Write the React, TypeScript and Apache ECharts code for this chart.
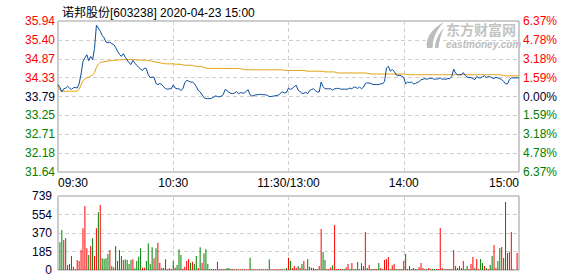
import React, { useEffect, useRef } from "react";
import * as echarts from "echarts";

const FONT = '"Liberation Sans", Arial, "Noto Sans CJK SC", sans-serif';
const TITLE = "诺邦股份[603238] 2020-04-23 15:00";
const PRE_CLOSE = 33.79;

const priceLabels = ["31.64", "32.18", "32.71", "33.25", "33.79", "34.33", "34.87", "35.40", "35.94"];
const pctLabels = ["6.37%", "4.78%", "3.18%", "1.59%", "0.00%", "1.59%", "3.18%", "4.78%", "6.37%"];
const volLabels = ["0", "185", "370", "554", "739"];
const xLabelIndex = [0, 60, 120, 180, 240];
const xLabels = ["09:30", "10:30", "11:30/13:00", "14:00", "15:00"];

const price = [
  34.13, 34.05, 33.92, 34.01, 34.03, 34.08, 34.03, 33.99, 34.04, 34.05,
  34.03, 34.15, 34.43, 34.79, 34.89, 34.98, 34.81, 34.93, 34.84, 35.15,
  35.82, 35.74, 35.65, 35.53, 35.46, 35.34, 35.32, 35.34, 35.29, 35.27,
  35.19, 35.08, 34.99, 34.93, 35.01, 34.91, 34.83, 34.75, 34.70, 34.82,
  34.74, 34.68, 34.62, 34.57, 34.53, 34.60, 34.58, 34.41, 34.33, 34.34,
  34.34, 34.16, 34.13, 34.16, 34.13, 34.07, 34.01, 34.00, 34.01, 34.01,
  34.12, 34.03, 34.01, 34.01, 33.96, 34.01, 34.18, 34.25, 34.23, 34.20,
  34.20, 34.16, 34.07, 33.96, 33.92, 33.84, 33.76, 33.73, 33.73, 33.73,
  33.74, 33.77, 33.81, 33.79, 33.78, 33.80, 33.84, 33.99, 33.96, 33.91,
  33.88, 33.87, 33.89, 33.93, 33.87, 33.90, 33.89, 33.89, 33.94, 33.98,
  33.84, 33.80, 33.82, 33.84, 33.84, 33.85, 33.85, 33.84, 33.84, 33.82,
  33.79, 33.79, 33.80, 33.81, 33.82, 33.84, 33.89, 33.92, 33.89, 33.91,
  34.03, 33.99, 34.02, 34.07, 34.11, 33.97, 33.93, 33.88, 33.88, 33.91,
  33.87, 33.96, 33.99, 34.01, 33.96, 33.92, 33.92, 34.20, 34.07, 34.01,
  34.01, 34.01, 34.01, 33.97, 34.01, 34.02, 34.02, 34.00, 34.00, 34.00,
  34.00, 34.00, 34.03, 34.01, 34.06, 34.05, 34.02, 34.06, 34.01, 34.05,
  34.16, 34.18, 34.17, 34.16, 34.13, 34.13, 34.13, 34.13, 34.15, 34.15,
  34.22, 34.60, 34.65, 34.51, 34.56, 34.51, 34.41, 34.39, 34.39, 34.37,
  34.33, 34.15, 34.20, 34.19, 34.20, 34.15, 34.16, 34.19, 34.21, 34.27,
  34.28, 34.30, 34.28, 34.30, 34.31, 34.30, 34.28, 34.29, 34.29, 34.32,
  34.28, 34.29, 34.28, 34.30, 34.30, 34.36, 34.57, 34.45, 34.41, 34.41,
  34.41, 34.47, 34.39, 34.34, 34.33, 34.33, 34.30, 34.27, 34.36, 34.32,
  34.32, 34.35, 34.38, 34.33, 34.36, 34.35, 34.32, 34.30, 34.34, 34.32,
  34.30, 34.27, 34.22, 34.15, 34.15, 34.27, 34.32, 34.32, 34.32, 34.32, 34.32,
];

const avgPrice = [
  34.10, 33.97, 33.94, 33.94, 33.94, 33.94, 33.94, 33.94, 33.94, 33.94,
  33.94, 34.00, 34.12, 34.24, 34.29, 34.32, 34.34, 34.37, 34.40, 34.47,
  34.62, 34.71, 34.76, 34.77, 34.78, 34.79, 34.80, 34.81, 34.81, 34.82,
  34.82, 34.83, 34.83, 34.84, 34.84, 34.84, 34.84, 34.84, 34.84, 34.84,
  34.84, 34.83, 34.83, 34.83, 34.82, 34.82, 34.82, 34.81, 34.81, 34.79,
  34.78, 34.77, 34.76, 34.75, 34.74, 34.73, 34.72, 34.72, 34.72, 34.72,
  34.72, 34.71, 34.71, 34.71, 34.70, 34.69, 34.68, 34.68, 34.68, 34.68,
  34.67, 34.66, 34.65, 34.65, 34.65, 34.64, 34.62, 34.60, 34.59, 34.59,
  34.59, 34.59, 34.59, 34.59, 34.59, 34.59, 34.59, 34.59, 34.59, 34.59,
  34.59, 34.59, 34.59, 34.59, 34.59, 34.58, 34.57, 34.56, 34.55, 34.55,
  34.55, 34.55, 34.55, 34.55, 34.55, 34.55, 34.55, 34.55, 34.55, 34.55,
  34.55, 34.55, 34.55, 34.55, 34.55, 34.55, 34.55, 34.54, 34.54, 34.53,
  34.53, 34.53, 34.53, 34.53, 34.53, 34.53, 34.53, 34.53, 34.53, 34.52,
  34.51, 34.51, 34.51, 34.51, 34.51, 34.51, 34.51, 34.51, 34.50, 34.49,
  34.49, 34.49, 34.49, 34.49, 34.49, 34.47, 34.46, 34.46, 34.46, 34.46,
  34.46, 34.46, 34.46, 34.46, 34.46, 34.46, 34.46, 34.46, 34.46, 34.46,
  34.46, 34.45, 34.44, 34.43, 34.43, 34.43, 34.43, 34.43, 34.43, 34.43,
  34.43, 34.43, 34.43, 34.43, 34.43, 34.43, 34.43, 34.43, 34.43, 34.43,
  34.43, 34.42, 34.42, 34.41, 34.41, 34.41, 34.41, 34.41, 34.41, 34.41,
  34.41, 34.41, 34.41, 34.41, 34.41, 34.41, 34.41, 34.41, 34.41, 34.41,
  34.41, 34.41, 34.41, 34.41, 34.41, 34.41, 34.41, 34.41, 34.41, 34.41,
  34.41, 34.41, 34.41, 34.41, 34.41, 34.41, 34.41, 34.41, 34.41, 34.41,
  34.41, 34.41, 34.41, 34.41, 34.41, 34.41, 34.41, 34.41, 34.41, 34.41,
  34.41, 34.40, 34.39, 34.38, 34.38, 34.38, 34.38, 34.38, 34.38, 34.38, 34.38,
];

const volume = [
  0, 276, 400, 300, 316, 50, 60, 140, 33, 10,
  100, 90, 200, 416, 639, 216, 150, 240, 316, 140,
  416, 576, 649, 117, 110, 117, 160, 200, 40, 27,
  240, 90, 200, 140, 100, 107, 100, 60, 100, 107,
  17, 90, 133, 216, 23, 23, 90, 266, 60, 226,
  117, 216, 273, 73, 23, 20, 107, 7, 17, 10,
  90, 23, 50, 206, 150, 13, 33, 90, 110, 73,
  83, 60, 140, 20, 226, 73, 166, 206, 60, 10,
  10, 10, 10, 83, 10, 10, 10, 10, 20, 20,
  10, 10, 8, 8, 8, 8, 8, 8, 8, 8,
  123, 8, 8, 8, 8, 8, 8, 8, 8, 8,
  107, 8, 8, 8, 8, 8, 8, 8, 8, 20,
  123, 90, 20, 40, 23, 40, 23, 60, 90, 10,
  110, 33, 23, 20, 10, 10, 40, 409, 180, 100,
  10, 10, 27, 47, 449, 10, 10, 10, 10, 10,
  27, 60, 10, 70, 10, 10, 80, 10, 67, 40,
  380, 20, 50, 10, 10, 10, 10, 70, 20, 10,
  100, 110, 130, 10, 47, 60, 10, 10, 10, 10,
  90, 160, 10, 40, 10, 20, 10, 10, 30, 70,
  20, 10, 10, 20, 10, 10, 10, 10, 10, 419,
  20, 10, 10, 10, 10, 10, 200, 40, 20, 40,
  20, 90, 10, 40, 10, 60, 130, 20, 110, 10,
  110, 70, 40, 20, 10, 50, 140, 250, 20, 90,
  220, 230, 120, 679, 170, 180, 380, 10, 0, 170, 0,
];

const volSide = [
  "r", "g", "g", "r", "g", "r", "g", "g", "r", "g",
  "r", "r", "r", "r", "r", "r", "g", "r", "g", "r",
  "r", "g", "r", "g", "g", "g", "g", "r", "g", "r",
  "g", "g", "g", "g", "r", "g", "g", "g", "g", "r",
  "g", "g", "g", "g", "r", "r", "g", "g", "g", "g",
  "r", "g", "r", "r", "g", "r", "g", "g", "r", "r",
  "g", "r", "g", "g", "g", "r", "r", "r", "r", "g",
  "r", "g", "g", "r", "g", "r", "g", "g", "g", "g",
  "r", "r", "r", "r", "r", "r", "r", "r", "g", "g",
  "g", "r", "r", "g", "r", "r", "g", "r", "r", "r",
  "g", "r", "r", "r", "r", "r", "g", "r", "r", "r",
  "g", "r", "r", "r", "r", "r", "r", "g", "r", "g",
  "r", "g", "r", "r", "r", "g", "r", "g", "r", "g",
  "g", "r", "g", "r", "g", "g", "r", "r", "g", "g",
  "r", "r", "r", "g", "r", "r", "r", "r", "g", "g",
  "r", "r", "g", "r", "g", "g", "g", "r", "g", "g",
  "r", "g", "r", "r", "g", "r", "r", "g", "r", "g",
  "r", "r", "r", "g", "r", "r", "g", "r", "g", "r",
  "r", "g", "r", "r", "g", "g", "r", "g", "r", "r",
  "r", "r", "g", "r", "r", "g", "g", "r", "r", "r",
  "r", "g", "r", "g", "r", "r", "r", "g", "r", "g",
  "g", "r", "g", "g", "r", "r", "r", "g", "r", "r",
  "g", "g", "r", "g", "r", "g", "g", "r", "r", "g",
  "g", "r", "g", "g", "r", "r", "r", "r", "r", "r", "r",
];

const RED = "#ff0000";
const GREEN = "#008000";
const DARK = "#00002e";

function pad(n: number) {
  return n < 10 ? "0" + n : "" + n;
}
const times: string[] = [];
for (let i = 0; i <= 120; i++) {
  const t = 9 * 60 + 30 + i;
  times.push(pad(Math.floor(t / 60)) + ":" + pad(t % 60));
}
for (let i = 1; i <= 120; i++) {
  const t = 13 * 60 + i;
  times.push(pad(Math.floor(t / 60)) + ":" + pad(t % 60));
}

let logoRegistered = false;
function registerLogo() {
  if (logoRegistered) return;
  logoRegistered = true;
  echarts.graphic.registerShape(
    "emlogo",
    echarts.graphic.extendPath(
      "M3 26 C1 17 7 7 20 0 C13 7 9 15 8.5 26 Z M11 26 C11 19 14 12 20 6 C17 12 15 19 14.5 26 Z",
      {}
    ) as any
  );
}

export default function App() {
  const ref = useRef<HTMLDivElement>(null);
  useEffect(() => {
    if (!ref.current) return;
    registerLogo();
    const chart = echarts.init(ref.current, undefined, { renderer: "svg" });
    const splitIdx = (i: number) => i === 60 || i === 120 || i === 180;
    const dash = { color: "#d0d0d0", type: [4, 3] as any, width: 1 };
    const sideColor = (v: any) => {
      const n = Math.round(Number(v));
      return n > 0 ? RED : n < 0 ? GREEN : DARK;
    };
    chart.setOption({
      animation: false,
      textStyle: { fontFamily: FONT },
      title: {
        text: TITLE,
        left: 57,
        top: 2,
        textStyle: { fontSize: 12, fontWeight: "normal", color: "#000", fontFamily: FONT },
      },
      grid: [
        { left: 58, top: 21, width: 461, height: 151, show: true, borderColor: "#999", borderWidth: 1 },
        { left: 58, top: 196, width: 461, height: 74, show: true, borderColor: "#999", borderWidth: 1 },
      ],
      xAxis: [
        {
          type: "category",
          gridIndex: 0,
          data: times,
          boundaryGap: false,
          axisLine: { show: false },
          axisTick: { show: false },
          splitLine: { show: true, interval: (i: number) => splitIdx(i), lineStyle: dash },
          axisLabel: {
            interval: (i: number) => xLabelIndex.indexOf(i) >= 0,
            formatter: (_v: string, i: number) => xLabels[xLabelIndex.indexOf(i)] ?? "",
            alignMinLabel: "left",
            alignMaxLabel: "right",
            margin: 5,
            fontSize: 12,
            color: "#000",
            fontFamily: FONT,
          },
        },
        {
          type: "category",
          gridIndex: 1,
          data: times,
          boundaryGap: false,
          axisLine: { show: false },
          axisTick: { show: false },
          axisLabel: { show: false },
          splitLine: { show: true, interval: (i: number) => splitIdx(i), lineStyle: dash },
        },
      ],
      yAxis: [
        { type: "value", gridIndex: 0, show: false, min: PRE_CLOSE - 2.15, max: PRE_CLOSE + 2.15 },
        {
          type: "value",
          gridIndex: 0,
          position: "left",
          min: -4,
          max: 4,
          interval: 1,
          axisLine: { show: false },
          axisTick: { show: false },
          splitLine: { show: true, lineStyle: dash },
          axisLabel: {
            formatter: (v: number) => priceLabels[Math.round(v) + 4],
            color: (v: any) => sideColor(v),
            margin: 3,
            fontSize: 12,
            fontFamily: FONT,
          },
        },
        {
          type: "value",
          gridIndex: 0,
          position: "right",
          min: -4,
          max: 4,
          interval: 1,
          axisLine: { show: false },
          axisTick: { show: false },
          splitLine: { show: false },
          axisLabel: {
            formatter: (v: number) => pctLabels[4 - Math.round(v)],
            color: (v: any) => sideColor(v),
            margin: 4,
            fontSize: 12,
            fontFamily: FONT,
          },
        },
        {
          type: "value",
          gridIndex: 1,
          min: 0,
          max: 739,
          interval: 184.75,
          axisLine: { show: false },
          axisTick: { show: false },
          splitLine: { show: true, lineStyle: dash },
          axisLabel: {
            formatter: (v: number) => volLabels[Math.round(v / 184.75)],
            color: DARK,
            margin: 6,
            fontSize: 12,
            fontFamily: FONT,
          },
        },
      ],
      graphic: [
        {
          type: "emlogo",
          x: 424,
          y: 22,
          scaleX: 1,
          scaleY: 1,
          z: 1,
          silent: true,
          style: { fill: "#bdbdbd" },
        },
        {
          type: "text",
          x: 446,
          y: 21.5,
          z: 1,
          silent: true,
          style: {
            text: "东方财富网",
            font: 'bold 14px "Noto Sans CJK SC"',
            lineHeight: 14,
            verticalAlign: "top",
            fill: "#c4c4c4",
          },
        },
        {
          type: "text",
          x: 446,
          y: 39.5,
          z: 1,
          silent: true,
          style: {
            text: "eastmoney.com",
            font: 'italic bold 10px "Liberation Sans"',
            lineHeight: 10,
            verticalAlign: "top",
            fill: "#bcbcbc",
          },
        },
      ],
      series: [
        {
          type: "line",
          name: "均价",
          xAxisIndex: 0,
          yAxisIndex: 0,
          data: avgPrice,
          symbol: "none",
          z: 3,
          lineStyle: { color: "#e0a10e", width: 1 },
        },
        {
          type: "line",
          name: "价格",
          xAxisIndex: 0,
          yAxisIndex: 0,
          data: price,
          symbol: "none",
          z: 4,
          lineStyle: { color: "#0b4c9c", width: 1 },
        },
        {
          type: "bar",
          name: "成交量",
          xAxisIndex: 1,
          yAxisIndex: 3,
          barWidth: 1,
          data: volume.map((v, i) => ({
            value: v,
            itemStyle: { color: volSide[i] === "r" ? RED : GREEN },
          })),
        },
      ],
    });
    return () => chart.dispose();
  }, []);
  return (
    <div
      ref={ref}
      style={{ position: "absolute", left: 0, top: 0, width: 578, height: 276, background: "#fff" }}
    />
  );
}
